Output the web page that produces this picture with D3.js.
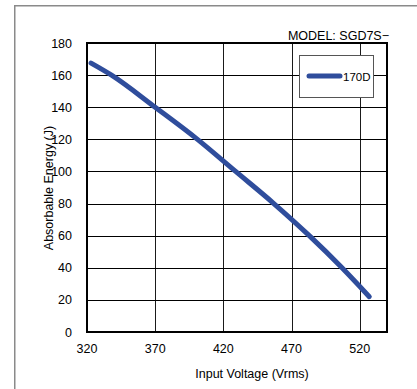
<!DOCTYPE html>
<html><head><meta charset="utf-8">
<script src="https://cdn.jsdelivr.net/npm/d3@7"></script>
<style>body{margin:0;background:#fff}svg{display:block}text{font-family:"Liberation Sans",Arial,sans-serif;fill:#000}</style>
</head><body><svg id="c" width="417" height="389"></svg>
<script>
const voltage = [323, 338, 370, 401, 429, 457, 483, 507, 527];
const energy  = [167.5, 160, 140, 120, 100, 80, 60, 40, 22];
const xTicks = [320, 370, 420, 470, 520];
const yTicks = [0, 20, 40, 60, 80, 100, 120, 140, 160, 180];
const seriesName = "170D";
const modelLabel = "MODEL: SGD7S\u2212";

const svg = d3.select("#c");
const L = 87, R = 387, T = 43, B = 332;
const x = d3.scaleLinear().domain([320, 540]).range([L, R]);
const y = d3.scaleLinear().domain([0, 180]).range([B, T]);

// outer frame (gray)
svg.append("rect").attr("x", 14).attr("y", 5).attr("width", 403).attr("height", 1.5).attr("fill", "#8a8a8a");
svg.append("rect").attr("x", 14).attr("y", 5).attr("width", 1.5).attr("height", 384).attr("fill", "#8a8a8a");

// grid
svg.append("g").selectAll("rect").data(xTicks.slice(1)).join("rect")
  .attr("x", d => Math.round(x(d))).attr("y", T).attr("width", 1).attr("height", B - T).attr("fill", "#1a1a1a");
svg.append("g").selectAll("rect").data(yTicks.slice(1)).join("rect")
  .attr("y", d => Math.round(y(d))).attr("x", L).attr("height", 1).attr("width", R - L).attr("fill", "#000");

// plot frame
const fr = svg.append("g").attr("fill", "#000");
fr.append("rect").attr("x", L - 1).attr("y", T - 1).attr("width", R - L + 2).attr("height", 2);
fr.append("rect").attr("x", L - 1).attr("y", B - 1).attr("width", R - L + 2).attr("height", 2);
fr.append("rect").attr("x", L - 1).attr("y", T - 1).attr("width", 2).attr("height", B - T + 2);
fr.append("rect").attr("x", R - 1).attr("y", T - 1).attr("width", 2).attr("height", B - T + 2);

// tick labels
svg.append("g").selectAll("text").data(yTicks).join("text")
  .attr("x", 72).attr("y", d => y(d) + 4.5).attr("text-anchor", "end")
  .attr("font-size", 12.5).text(d => d);
svg.append("g").selectAll("text").data(xTicks).join("text")
  .attr("x", d => x(d)).attr("y", 353).attr("text-anchor", "middle")
  .attr("font-size", 12.5).text(d => d);

// axis titles
svg.append("text").attr("x", 252).attr("y", 378).attr("text-anchor", "middle")
  .attr("font-size", 12.5).text("Input Voltage (Vrms)");
svg.append("text").attr("transform", "translate(53,188) rotate(-90)").attr("text-anchor", "middle")
  .attr("font-size", 12.5).text("Absorbable Energy (J)");
svg.append("text").attr("x", 389).attr("y", 40).attr("text-anchor", "end")
  .attr("font-size", 12.5).text(modelLabel);

// curve
const data = voltage.map((v, i) => [v, energy[i]]);
svg.append("path").datum(data)
  .attr("d", d3.line().x(d => x(d[0])).y(d => y(d[1])).curve(d3.curveMonotoneX))
  .attr("fill", "none").attr("stroke", "#2f4d9c").attr("stroke-width", 5)
  .attr("stroke-linecap", "round").attr("stroke-linejoin", "round");

// legend
svg.append("rect").attr("x", 299).attr("y", 55).attr("width", 75).attr("height", 43).attr("fill", "#555");
svg.append("rect").attr("x", 300).attr("y", 56).attr("width", 73).attr("height", 41).attr("fill", "#fff");
svg.append("line").attr("x1", 309).attr("x2", 340).attr("y1", 76).attr("y2", 76)
  .attr("stroke", "#2f4d9c").attr("stroke-width", 5).attr("stroke-linecap", "round");
svg.append("text").attr("x", 343).attr("y", 80.5).attr("font-size", 11.5).text(seriesName);
</script></body></html>
